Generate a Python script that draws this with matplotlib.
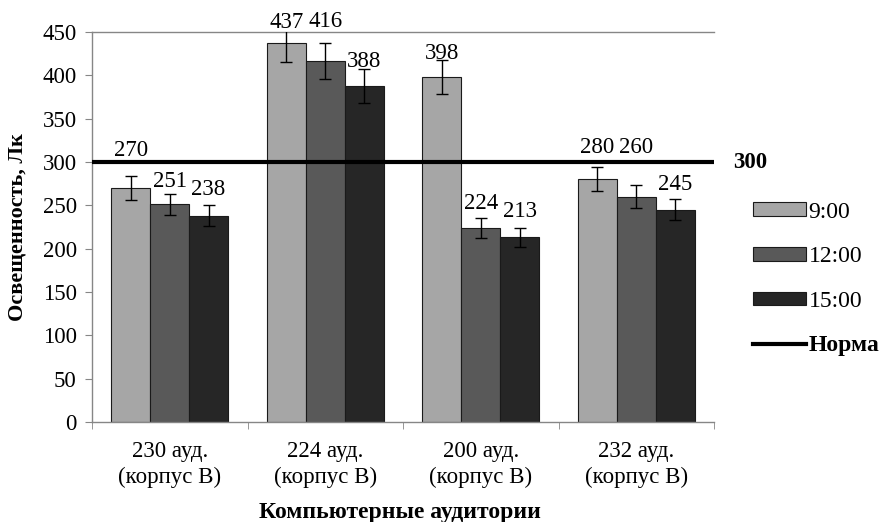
import matplotlib
matplotlib.use("Agg")
import matplotlib.pyplot as plt
import numpy as np
from matplotlib.patches import Patch
from matplotlib.lines import Line2D

categories = ["230 ауд.\n(корпус В)", "224 ауд.\n(корпус В)", "200 ауд.\n(корпус В)", "232 ауд.\n(корпус В)"]
series_names = ["9:00", "12:00", "15:00"]
v_900 = [270, 437, 398, 280]
v_1200 = [251, 416, 224, 260]
v_1500 = [238, 388, 213, 245]
e_900 = [13.5, 21.9, 19.9, 14.0]
e_1200 = [12.6, 20.8, 11.2, 13.0]
e_1500 = [11.9, 19.4, 10.7, 12.3]
norm_value = 300
norm_label = "Норма"
y_ticks = [0, 50, 100, 150, 200, 250, 300, 350, 400, 450]

values = [v_900, v_1200, v_1500]
errors = [e_900, e_1200, e_1500]
colors = ["#a6a6a6", "#595959", "#262626"]
# label offsets above bar top, pixels (layout only)
label_off = [[38, 21, 24, 32], [23, 40, 24, 49], [26, 24, 26, 25]]

plt.rcParams['font.family'] = ['Liberation Serif', 'DejaVu Serif']
fs = 16.5

fig = plt.figure(figsize=(8.82, 5.22), dpi=100)
ax = fig.add_axes([92/882, 1-422/522, 622/882, 390/522])

n = len(categories)
x = np.arange(n)
bw = 0.25
axis_gray = "#868686"
for i in range(3):
    xs = x + (i - 1) * bw
    ax.bar(xs, values[i], width=bw, color=colors[i], edgecolor="#1a1a1a",
           linewidth=0.8, zorder=2)
    ax.errorbar(xs, values[i], yerr=errors[i], fmt='none', ecolor='black',
                elinewidth=1.0, capsize=4.5, capthick=1.0, zorder=3)
    for j in range(n):
        ax.annotate(str(values[i][j]), xy=(xs[j], values[i][j]),
                    xytext=(0, label_off[i][j]), textcoords='offset pixels',
                    ha='center', va='center', fontsize=fs, zorder=5,
                    annotation_clip=False)

ax.axhline(norm_value, color='black', lw=3, zorder=4)
ax.text(1.0305, norm_value, str(norm_value), transform=ax.get_yaxis_transform(),
        ha='left', va='center', fontsize=fs, fontweight='bold')

ax.set_xlim(-0.5, n - 0.5)
ax.set_ylim(0, 450)
ax.set_yticks(y_ticks)
ax.set_yticklabels([str(t) for t in y_ticks], fontsize=fs)
ax.set_xticks(x)
ax.set_xticklabels(categories, fontsize=fs, linespacing=1.25)
ax.set_xticks(np.arange(n + 1) - 0.5, minor=True)
ax.tick_params(axis='x', which='major', length=0, pad=14)
ax.tick_params(axis='x', which='minor', length=5, color=axis_gray, direction='out')
ax.tick_params(axis='y', length=5, color=axis_gray, direction='out', pad=6)

for s in ['right']:
    ax.spines[s].set_visible(False)
for s in ['left', 'bottom', 'top']:
    ax.spines[s].set_color(axis_gray)
    ax.spines[s].set_linewidth(1.0)

ax.set_ylabel("Освещенность, Лк", fontsize=16, fontweight='bold')
ax.yaxis.set_label_coords(-0.103, 0.5)
ax.set_xlabel("Компьютерные аудитории", fontsize=17, fontweight='bold', va='center')
ax.xaxis.set_label_coords(0.495, -0.233)

handles = [Patch(facecolor=colors[i], edgecolor="#1a1a1a", linewidth=0.8) for i in range(3)]
handles.append(Line2D([0], [0], color='black', lw=3))
leg = fig.legend(handles, series_names + [norm_label], loc='center left',
                 bbox_to_anchor=(753/882, 1-279/522), frameon=False,
                 fontsize=17, handlelength=2.25, handleheight=0.5,
                 handletextpad=0.1, labelspacing=1.0, borderpad=0,
                 borderaxespad=0)
leg.get_texts()[3].set_fontweight('bold')

fig.savefig("out.png", dpi=100)
